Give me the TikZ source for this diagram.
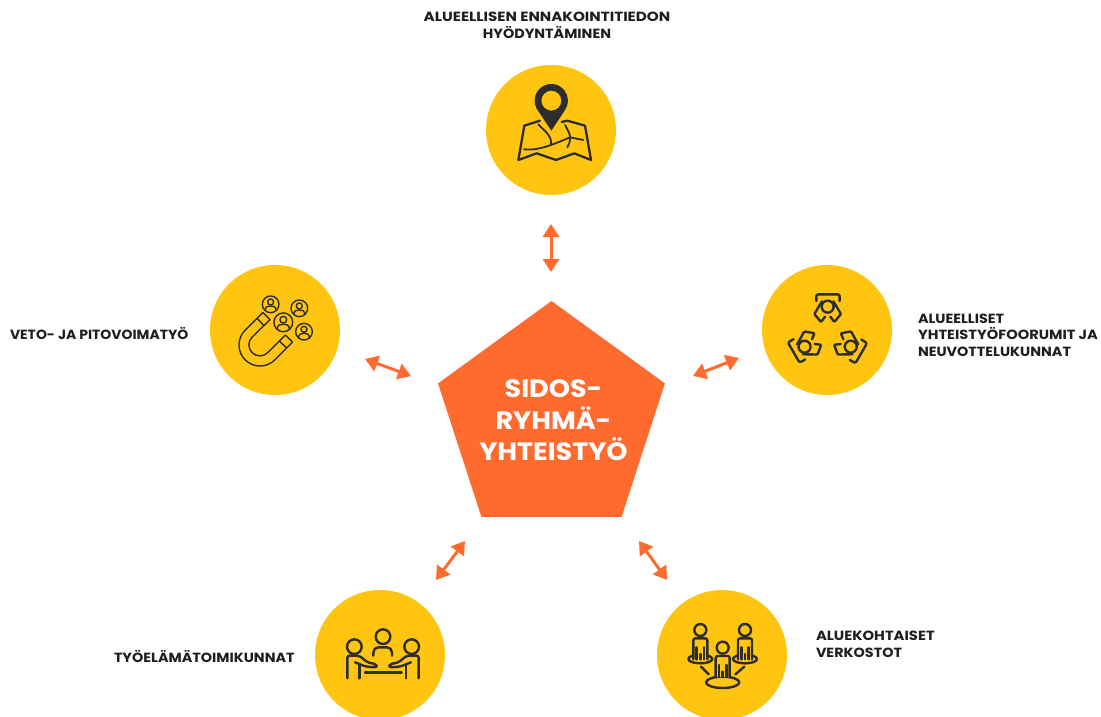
\documentclass[tikz,border=0pt]{standalone}
\usepackage{fontspec}
\usepackage{xcolor}
\usepackage{tikz}
\usetikzlibrary{arrows.meta,shapes.geometric}
\setmainfont{Poppins}[FakeStretch=1.08]
\definecolor{hubcolor}{RGB}{255,106,46}
\definecolor{discyellow}{RGB}{255,197,16}
\definecolor{iconink}{RGB}{45,45,45}
\definecolor{labelink}{RGB}{30,30,30}
\tikzset{
  disc/.style={circle, fill=discyellow, minimum size=130pt, inner sep=0pt, outer sep=0pt},
  hub/.style={regular polygon, regular polygon sides=5, fill=hubcolor, minimum size=238.6pt, inner sep=0pt, outer sep=0pt},
  hubtext/.style={inner sep=0pt, outer sep=0pt, text=white, align=center, font=\fontsize{25}{31.5}\selectfont\bfseries},
  tag/.style={inner sep=0pt, outer sep=0pt, text=labelink, font=\fontsize{13.3}{16.6}\selectfont\bfseries},
  link/.style={draw=hubcolor, line width=3pt, {Triangle[length=13pt,width=16pt]}-{Triangle[length=13pt,width=16pt]}},
  ink/.style={draw=iconink, line width=2.4pt, line cap=round, line join=round},
  thin ink/.style={draw=iconink, line width=1.4pt, line join=round},
  ringperson/.pic={
    \draw[thin ink] (0,0) circle (25);
    \draw[thin ink] (0,-7) circle (9);
    \draw[thin ink] (-16,18) .. controls (-16,6) and (-8,5) .. (0,5) .. controls (8,5) and (16,6) .. (16,18);
  },
  seatperson/.pic={
    \draw[ink, rounded corners=2pt] (-34,-97) -- (-34,-117) -- (36,-117) -- (36,-97);
    \draw[ink] (0,-80) circle (18);
    \draw[ink, rounded corners=1pt] (-17,-96) -- (-40,-58) -- (-20,-34) -- (-8,-50);
    \draw[ink, rounded corners=1pt] (17,-96) -- (40,-58) -- (20,-34) -- (8,-50);
  },
  netperson/.pic={
    \draw[ink] (0,0) circle (18);
    \draw[ink, rounded corners=2pt, fill=discyellow] (-21,88) -- (-21,25) -- (21,25) -- (21,88);
    \draw[ink] (-11,52) -- (-11,88) (0,72) -- (0,88) (11,52) -- (11,88);
  }
}

\begin{document}
\begin{tikzpicture}[x=1pt,y=-1pt]
\useasboundingbox (0,0) rectangle (1101,717);

% circles and the centre
\node[disc] (map) at (551,130) {};
\node[disc] (magnet) at (275,330) {};
\node[disc] (forum) at (827,330) {};
\node[disc] (table) at (380,655) {};
\node[disc] (network) at (722,655) {};
\node[hub] (centre) at (551.5,420.3) {};
\node[hubtext] (centretext) at ([xshift=2pt]centre) {SIDOS-\\RYHMÄ-\\YHTEISTYÖ};

% labels
\node[tag, align=center] (maplabel) at (547,25.5) {{\addfontfeature{FakeStretch=1.14}ALUEELLISEN ENNAKOINTITIEDON}\\HYÖDYNTÄMINEN};
\node[tag, anchor=west] (magnetlabel) at (10,333) {{\addfontfeature{FakeStretch=1.05}VETO- JA PITOVOIMATYÖ}};
\node[tag, anchor=west, align=left] (forumlabel) at (918,335) {ALUEELLISET\\{\addfontfeature{FakeStretch=1.1}YHTEISTYÖFOORUMIT JA}\\NEUVOTTELUKUNNAT};
\node[tag, anchor=west] (tablelabel) at (114,656) {TYÖELÄMÄTOIMIKUNNAT};
\node[tag, anchor=west, align=left] (networklabel) at (816,644.5) {{\addfontfeature{FakeStretch=1.11}ALUEKOHTAISET}\\VERKOSTOT};

% arrows
\coordinate (a1) at (551,224);
\coordinate (a2) at (551,272);
\coordinate (b1) at (365,359);
\coordinate (b2) at (411,376);
\coordinate (c1) at (693,376);
\coordinate (c2) at (739,358);
\coordinate (d1) at (465,541);
\coordinate (d2) at (436,580);
\coordinate (e1) at (639,541);
\coordinate (e2) at (667,580);
\draw[link] (a1) -- (a2);
\draw[link] (b1) -- (b2);
\draw[link] (c1) -- (c2);
\draw[link] (d1) -- (d2);
\draw[link] (e1) -- (e2);

% map icon
\begin{scope}[shift={(480,60)},scale=1/3]
\fill[iconink, even odd rule] (214,212) -- (174,152) arc[start angle=143,end angle=397,radius=50] -- cycle (214,122) circle (30);
\draw[ink, line width=2.3pt] (180,182) -- (133,197) -- (115,300) -- (170,280) -- (228,300) -- (283,280) -- (333,300) -- (315,197) -- (262,182) -- (245,186);
\draw[ink, line width=1.8pt] (175,193) .. controls (195,215) and (215,225) .. (213,252);
\draw[ink, line width=1.8pt] (132,268) .. controls (170,272) and (205,260) .. (270,232) -- (310,240);
\draw[ink, line width=1.8pt] (255,195) .. controls (265,215) and (280,230) .. (262,262);
\end{scope}

% magnet icon
\begin{scope}[shift={(205,260)},scale=1/3]
\draw[thin ink] (173.5,157.5) -- (120.5,210.5) arc[start angle=225,end angle=45,radius=63] -- (262.5,246.5) -- (241,225) -- (188,278) arc[start angle=45,end angle=225,radius=33] -- (195,179) -- cycle;
\draw[thin ink] (156,175) -- (177,197) (245,264) -- (223,243);
\pic[transform shape] at (197,133) {ringperson};
\pic[transform shape] at (283,145) {ringperson};
\pic[transform shape,scale=1.13] at (235,187) {ringperson};
\pic[transform shape] at (297,215) {ringperson};
\end{scope}

% forum icon
\begin{scope}[shift={(757,260)},scale=1/3]
\pic[transform shape] at (212,220) {seatperson};
\pic[transform shape,rotate=120] at (212,220) {seatperson};
\pic[transform shape,rotate=-120] at (212,220) {seatperson};
\end{scope}

% table icon
\begin{scope}[shift={(310,585)},scale=1/3]
\draw[ink] (219,155) circle (22);
\draw[ink, rounded corners=5pt] (190,212) -- (190,187) -- (246,187) -- (246,212);
\draw[ink] (133,185) circle (22) (305,185) circle (22);
\draw[ink, rounded corners=2pt] (112,280) -- (112,212) -- (148,212) -- (172,232) -- (200,238) -- (200,247) -- (168,245) -- (135,232);
\draw[ink, rounded corners=2pt] (326,280) -- (326,212) -- (290,212) -- (266,232) -- (238,238) -- (238,247) -- (270,245) -- (303,232);
\draw[ink] (148,240) -- (148,280) (288,240) -- (288,280) (165,262) -- (275,262);
\end{scope}

% network icon
\begin{scope}[shift={(652,585)},scale=1/3]
\draw[ink] (145,222) ellipse (36 and 13) (279,222) ellipse (36 and 13);
\pic[transform shape] at (145,135) {netperson};
\pic[transform shape] at (279,135) {netperson};
\draw[ink] (212,292) ellipse (50 and 17);
\pic[transform shape] at (212,188) {netperson};
\draw[ink] (147,245) -- (170,268) (277,245) -- (250,268);
\end{scope}
\end{tikzpicture}
\end{document}
